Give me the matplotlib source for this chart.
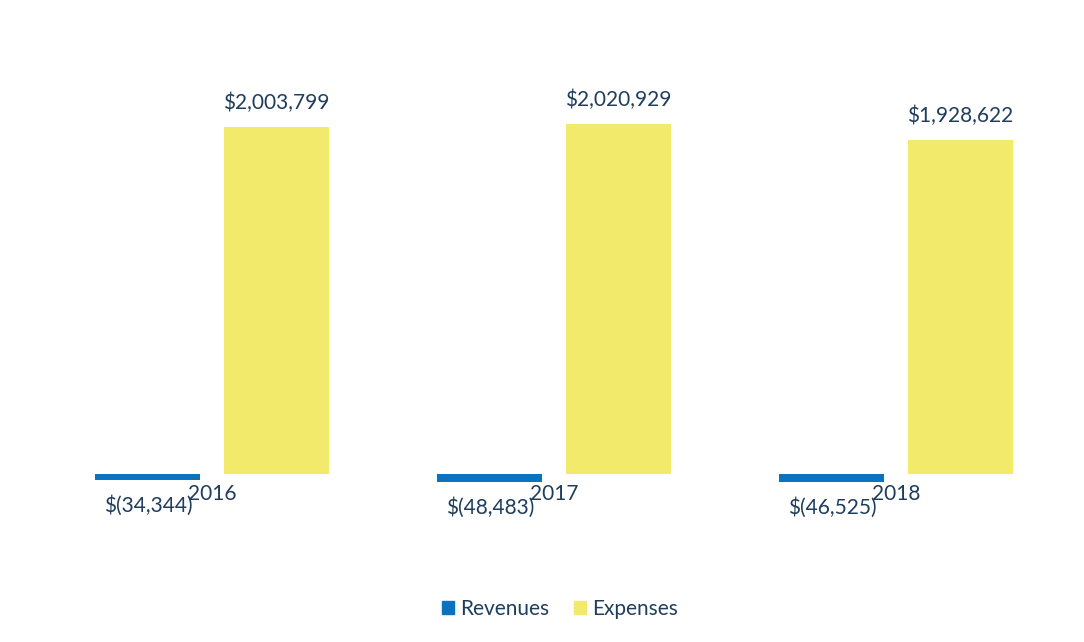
import numpy as np
import matplotlib.pyplot as plt
from matplotlib.patches import Patch

plt.rcParams['font.family'] = ['Lato', 'DejaVu Sans']

years = ['2016', '2017', '2018']
revenues = [-34344, -48483, -46525]
expenses = [2003799, 2020929, 1928622]

blue = '#0b73bd'
yellow = '#f2ea6a'
text_col = '#1f3d5c'


def money(v):
    if v < 0:
        return '$({:,})'.format(-v)
    return '${:,}'.format(v)


fig = plt.figure(figsize=(10.84, 6.42), dpi=100)
ax = fig.add_axes([41 / 1084, 0.1942, 1026 / 1084, 0.6745])

x = np.arange(len(years))
w = 0.307
off = 0.1875
ax.bar(x - off, revenues, w, color=blue)
ax.bar(x + off, expenses, w, color=yellow)

for xi, r, e in zip(x, revenues, expenses):
    ax.annotate(money(r), (xi - off, r), xytext=(0, -11), textcoords='offset points',
                ha='center', va='top', fontsize=15, color=text_col)
    ax.annotate(money(e), (xi + off, e), xytext=(0, 10), textcoords='offset points',
                ha='center', va='bottom', fontsize=15, color=text_col)

ax.set_xlim(-0.5, 2.5)
ax.set_ylim(-250000, 2250000)
ax.spines['bottom'].set_position(('data', 0))
for s in ['top', 'right', 'left', 'bottom']:
    ax.spines[s].set_visible(False)
ax.set_yticks([])
ax.set_xticks(x)
ax.set_xticklabels(years, fontsize=15, color=text_col)
ax.tick_params(axis='x', length=0, pad=7)

handles = [Patch(color=blue, label='Revenues'), Patch(color=yellow, label='Expenses')]
fig.legend(handles=handles, loc='center', bbox_to_anchor=(560 / 1084, 1 - 609 / 642),
           ncol=2, frameon=False, fontsize=15, labelcolor=text_col,
           handlelength=0.55, handleheight=0.55, handletextpad=0.3, columnspacing=1.2)

fig.savefig('out.png', dpi=100)
